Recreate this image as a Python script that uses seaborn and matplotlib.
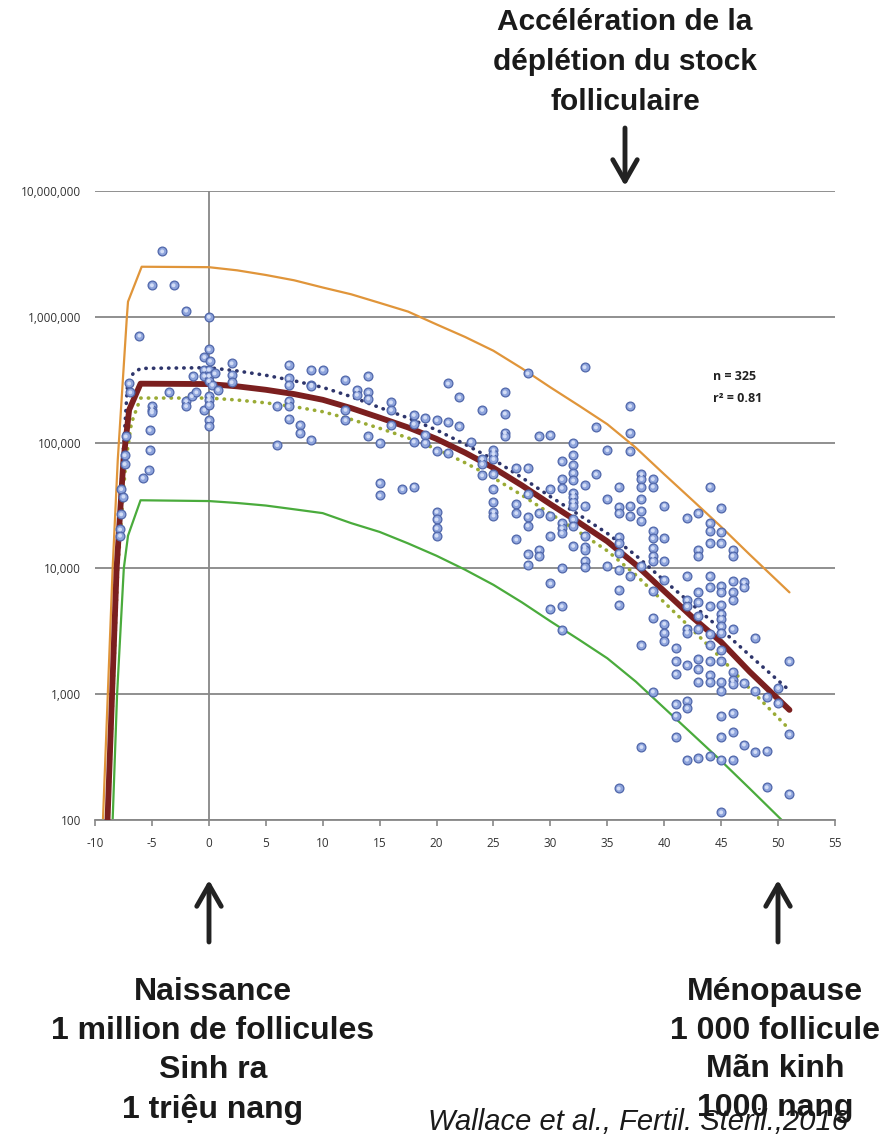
import matplotlib
matplotlib.use("Agg")
import matplotlib.pyplot as plt
from matplotlib.ticker import FixedLocator, FuncFormatter, NullLocator
import pandas as pd
import seaborn as sns

# ---- values --------------------------------------------------------------
# observed follicle counts, grouped by age (years from birth)
cohort_age = [-7.8, -7.7, -7.5, -7.4, -7.3, -7.0, -6.9, -6.1, -5.8, -5.3, -5.2, -5.0,
              -4.1, -3.5, -3.1, -2.0, -1.5, -1.4, -1.1, -0.4, 0, 0.1, 0.3, 0.5, 0.8,
              2, 6, 7, 8, 9, 10, 12, 13, 14, 15, 16, 17, 18, 19, 20, 21, 22, 23, 24,
              25, 26, 27, 28, 29, 30, 31, 32, 33, 34, 35, 36, 37, 38, 39, 40, 41, 42,
              43, 44, 45, 46, 47, 48, 49, 50, 51]
cohort_counts = [
    [20400, 18200], [26900, 42700], [37200], [67600, 79400], [112000], [295000],
    [251000], [708000], [52500], [60300], [126000, 87100],
    [195000, 182000, 174000, 1780000],
    [3310000], [251000], [1780000], [1120000, 214000, 195000], [234000], [339000],
    [251000], [182000, 479000, 380000, 339000],
    [1000000, 550000, 380000, 339000, 309000, 234000, 219000, 200000, 151000, 135000],
    [447000], [288000], [355000], [263000],
    [427000, 347000, 302000], [195000, 95500],
    [417000, 324000, 288000, 214000, 195000, 155000], [138000, 120000],
    [380000, 288000, 282000, 105000], [380000], [316000, 182000, 151000],
    [263000, 240000], [339000, 251000, 224000, 112000], [100000, 47900, 38000],
    [209000, 182000, 138000], [42700], [166000, 141000, 102000, 44700],
    [158000, 115000, 100000], [151000, 85100, 28200, 24500, 20900, 18200],
    [295000, 145000, 83200], [229000, 135000], [102000],
    [182000, 74100, 67600, 55000],
    [87100, 81300, 74100, 56200, 42700, 33900, 28200, 26300],
    [251000, 170000, 120000, 112000], [63100, 32400, 27500, 17000],
    [355000, 63100, 38900, 25700, 21900, 12900, 10700],
    [112000, 27500, 14100, 12600],
    [115000, 42700, 26300, 18200, 7590, 4790],
    [70800, 51300, 43700, 22900, 20900, 19100, 10000, 5010, 3240],
    [100000, 79400, 66100, 57500, 50100, 39800, 37200, 33900, 31600, 24500, 21900, 15100],
    [398000, 45700, 31600, 18200, 14800, 14100, 11500, 10200],
    [132000, 56200], [87100, 35500, 10500],
    [44700, 30900, 27500, 17800, 15800, 13200, 9770, 6760, 5130, 178],
    [195000, 120000, 85100, 31600, 26300, 8710],
    [56200, 51300, 44700, 35500, 28800, 24000, 10500, 2450, 380],
    [51300, 44700, 20000, 17400, 14500, 12600, 11500, 6610, 4070, 1050],
    [31600, 17400, 11500, 8130, 3630, 3090, 2630],
    [2340, 1820, 1450, 832, 676, 457],
    [25100, 8710, 5620, 5010, 3310, 3090, 1700, 891, 776, 302],
    [27500, 14100, 12600, 6460, 5370, 4170, 3310, 1910, 1580, 1260, 309],
    [44700, 22900, 20000, 15800, 8710, 7080, 5010, 3020, 2450, 1820, 1410, 1260, 324],
    [30200, 19500, 15800, 7240, 6460, 5130, 4370, 3980, 3470, 3090, 2240, 1820, 1260,
     1070, 676, 457, 302, 115],
    [14100, 12600, 7940, 6460, 5620, 3310, 1510, 1290, 1200, 708, 501, 302],
    [7760, 7080, 1230, 398], [2820, 1070, 347], [955, 355, 182], [1120, 851],
    [1820, 479, 162],
]

# ages at which the fitted curves were read (after the fetal rise)
curve_age = [0, 2.5, 5, 7.5, 10, 12.5, 15, 17.5, 20, 22.5, 25, 27.5, 30, 32.5, 35,
             37.5, 40, 42.5, 45, 47.5, 51]

# fitted model (solid red)
fit_age = [-8.9, -8.1, -7.5, -7.0, -6.0] + curve_age
fit_count = [100, 10000, 73000, 182000, 294000,
             292000, 280000, 263000, 243000, 219000, 188000, 158000, 132000, 107000,
             83200, 63000, 45700, 32400, 23200, 16400, 10700, 6600, 4070, 2600, 1510, 750]

# 95% band of the fit (dotted)
ci_hi_age = [-8.9, -8.15, -7.5, -7.15, -6.65, -6.0] + curve_age
ci_hi_count = [100, 10000, 89000, 282000, 355000, 389000,
               394000, 371000, 343000, 310000, 275000, 232000, 190000, 157000, 126000,
               97000, 73300, 52700, 37200, 26700, 19000, 12700, 8000, 5130, 3270,
               2040, 1070]

ci_lo_age = [-8.85, -8.0, -7.3, -6.8, -6.0] + curve_age
ci_lo_count = [100, 10000, 70800, 143000, 226000,
               226000, 218000, 207000, 193000, 176000, 153000, 130000, 109000, 89000,
               69200, 52500, 38200, 27200, 19500, 13800, 8870, 5370, 3240, 1930,
               1110, 525]

# prediction interval (thin solid)
pi_hi_age = [-9.3, -8.45, -8.0, -7.2, -7.1, -5.9] + curve_age
pi_hi_count = [100, 10000, 73000, 1000000, 1320000, 2500000,
               2480000, 2340000, 2150000, 1950000, 1710000, 1510000, 1290000, 1100000,
               870000, 692000, 537000, 389000, 275000, 197000, 140000, 91200, 56000,
               34700, 21400, 12900, 6450]

pi_lo_age = [-8.45, -8.06, -7.47, -7.1, -6.0] + curve_age
pi_lo_count = [100, 1000, 10000, 18200, 34800,
               34300, 33100, 31600, 29500, 27500, 22900, 19500, 15800, 12600, 9770,
               7400, 5370, 3800, 2720, 1930, 1260, 776, 479, 295, 178, 87]

x_ticks = [-10, -5, 0, 5, 10, 15, 20, 25, 30, 35, 40, 45, 50, 55]
y_ticks = [100, 1000, 10000, 100000, 1000000, 10000000]

points = pd.DataFrame({"age": cohort_age, "count": cohort_counts}).explode("count")
points["count"] = points["count"].astype(float)

# ---- figure ---------------------------------------------------------------
sns.set_theme(style="white")
plt.rcParams["font.family"] = ["Liberation Sans", "DejaVu Sans"]

W, H = 893, 1144
GRID = "#878787"
fig = plt.figure(figsize=(W / 100, H / 100), dpi=100)
ax = fig.add_axes([95 / W, 1 - 820 / H, 740 / W, 629 / H])

ax.axvline(0, color=GRID, lw=1.3, zorder=1)

dots = (0, (0.1, 2.0))
sns.lineplot(x=pi_hi_age, y=pi_hi_count, ax=ax, color="#e0953a", lw=1.6, sort=False, zorder=2)
sns.lineplot(x=pi_lo_age, y=pi_lo_count, ax=ax, color="#4aab3c", lw=1.6, sort=False, zorder=2)
sns.lineplot(x=ci_hi_age, y=ci_hi_count, ax=ax, color="#2e356b", lw=2.6, sort=False,
             linestyle=dots, dash_capstyle="round", zorder=2)
sns.lineplot(x=ci_lo_age, y=ci_lo_count, ax=ax, color="#9aab35", lw=2.6, sort=False,
             linestyle=dots, dash_capstyle="round", zorder=2)
sns.lineplot(x=fit_age, y=fit_count, ax=ax, color="#7b1f1f", lw=4.2, sort=False, zorder=3)

sns.scatterplot(data=points, x="age", y="count", ax=ax, s=40, color="#8ea4dc",
                edgecolor="#5067aa", linewidth=0.9, zorder=4)
sns.scatterplot(data=points, x="age", y="count", ax=ax, s=8, color="#d3ddf6",
                edgecolor="none", linewidth=0, zorder=5)

ax.set_yscale("log")
ax.set_xlim(-10, 55)
ax.set_ylim(100, 10000000)
ax.yaxis.set_major_locator(FixedLocator(y_ticks))
ax.yaxis.set_minor_locator(NullLocator())
ax.yaxis.set_major_formatter(FuncFormatter(lambda v, p: f"{int(round(v)):,}"))
ax.set_xticks(x_ticks)
ax.set_xticklabels([str(t) for t in x_ticks])
ax.set_xlabel("")
ax.set_ylabel("")

ax.grid(axis="y", color=GRID, lw=1.3)
ax.grid(axis="x", visible=False)
ax.set_axisbelow(True)
for side in ["top", "right", "left"]:
    ax.spines[side].set_visible(False)
ax.spines["bottom"].set_color(GRID)
ax.spines["bottom"].set_linewidth(1.3)
ax.tick_params(axis="y", length=0, pad=10, labelsize=8.5, labelcolor="#333333")
ax.tick_params(axis="x", length=4, width=1.2, color=GRID, direction="out", pad=8,
               labelsize=8.5, labelcolor="#333333", bottom=True)
for lbl in ax.get_xticklabels() + ax.get_yticklabels():
    lbl.set_fontfamily(["Open Sans", "DejaVu Sans"])

fig.text(713 / W, 1 - 377 / H, "n = 325", fontsize=9, fontweight="bold",
         family=["Open Sans", "DejaVu Sans"], va="center", ha="left", color="#222222")
fig.text(713 / W, 1 - 398 / H, "r² = 0.81", fontsize=9, fontweight="bold",
         family=["Open Sans", "DejaVu Sans"], va="center", ha="left", color="#222222")

# ---- annotations ----------------------------------------------------------
fig.text(625 / W, 1 - 62 / H, "Accélération de la\ndéplétion du stock\nfolliculaire",
         ha="center", va="center", fontsize=21.5, fontweight="bold", linespacing=1.55,
         color="#1a1a1a")
fig.text(213 / W, 1 - 1051 / H, "Naissance\n1 million de follicules\nSinh ra\n1 triệu nang",
         ha="center", va="center", fontsize=23, fontweight="bold", linespacing=1.38,
         color="#1a1a1a")
fig.text(775 / W, 1 - 1050 / H, "Ménopause\n1 000 follicule\nMãn kinh\n1000 nang",
         ha="center", va="center", fontsize=23, fontweight="bold", linespacing=1.38,
         color="#1a1a1a")
fig.text(638 / W, 1 - 1122 / H, "Wallace et al., Fertil. Steril.,2016",
         ha="center", va="center", fontsize=21, style="italic", color="#1a1a1a")

arrow = dict(arrowstyle="->,head_length=0.7,head_width=0.4", lw=3.5, color="#222222",
             shrinkA=0, shrinkB=0, mutation_scale=22)
ax.annotate("", xy=(625 / W, 1 - 186 / H), xytext=(625 / W, 1 - 128 / H),
            xycoords="figure fraction", textcoords="figure fraction", arrowprops=arrow)
ax.annotate("", xy=(209 / W, 1 - 880 / H), xytext=(209 / W, 1 - 942 / H),
            xycoords="figure fraction", textcoords="figure fraction", arrowprops=arrow)
ax.annotate("", xy=(778 / W, 1 - 880 / H), xytext=(778 / W, 1 - 942 / H),
            xycoords="figure fraction", textcoords="figure fraction", arrowprops=arrow)

fig.savefig("out.png", dpi=100)
